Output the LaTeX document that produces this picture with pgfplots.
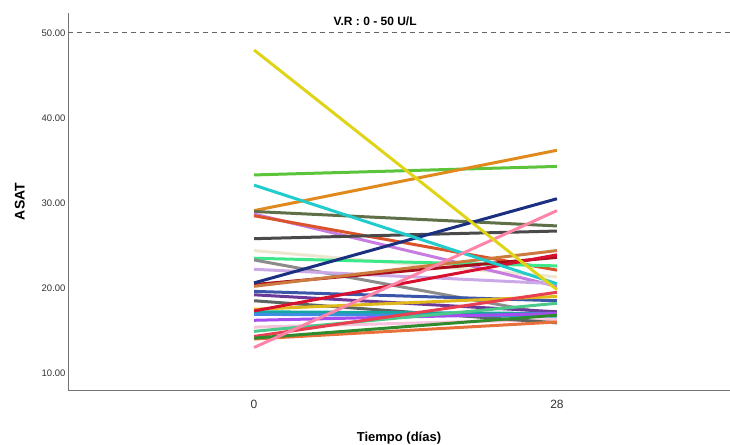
\documentclass[border=0pt]{standalone}
\usepackage{pgfplots}
\pgfplotsset{compat=1.18}
\usepackage{fontspec}
\setmainfont{Liberation Sans}
\definecolor{cA}{HTML}{5CC43A}
\definecolor{cB}{HTML}{22CCCC}
\definecolor{cC}{HTML}{E08A1E}
\definecolor{cD}{HTML}{5F7048}
\definecolor{cE}{HTML}{C77CE0}
\definecolor{cF}{HTML}{D9542B}
\definecolor{cG}{HTML}{4A4A4A}
\definecolor{cH}{HTML}{EDE6D0}
\definecolor{cI}{HTML}{3DE88A}
\definecolor{cJ}{HTML}{8C8C8C}
\definecolor{cK}{HTML}{CBA8E6}
\definecolor{cL}{HTML}{1A2F80}
\definecolor{cM}{HTML}{A80F1A}
\definecolor{cN}{HTML}{CC7A3D}
\definecolor{cO}{HTML}{3B56A8}
\definecolor{cP}{HTML}{6B3A99}
\definecolor{cQ}{HTML}{5C6660}
\definecolor{cR}{HTML}{E0B81A}
\definecolor{cS}{HTML}{14A8A0}
\definecolor{cT}{HTML}{3C8FE0}
\definecolor{cU}{HTML}{A64DF0}
\definecolor{cV}{HTML}{F7C3DC}
\definecolor{cW}{HTML}{4CC98A}
\definecolor{cX}{HTML}{E84050}
\definecolor{cY}{HTML}{2E8B2E}
\definecolor{cZ}{HTML}{FF85A8}
\definecolor{cYel}{HTML}{E0D419}
\definecolor{cCr}{HTML}{D6102E}
\definecolor{cCo}{HTML}{E8703A}
\begin{document}
\begin{tikzpicture}
\path[use as bounding box] (-68pt,-54pt) rectangle (662pt,390pt);
\begin{axis}[
  scale only axis, width=662pt, height=377pt,
  xmin=-17.2, xmax=44, ymin=8, ymax=52.35,
  axis x line*=bottom, axis y line*=left,
  axis line style={color=black!55, line width=0.8pt, -},
  xtick={0,28}, xticklabels={0,28},
  ytick={10,20,30,40,50},
  major tick length=0pt,
  yticklabel style={font=\fontsize{9.5}{10}\selectfont, text=black!80, xshift=1pt},
  xticklabel style={font=\fontsize{12}{13}\selectfont, text=black!80, yshift=-7pt},
  /pgf/number format/.cd, fixed, fixed zerofill, precision=2, assume math mode=true,
  /pgfplots/.cd,
  xlabel={\bfseries Tiempo (días)},
  ylabel={\bfseries ASAT},
  xlabel style={font=\fontsize{13}{14}\selectfont, yshift=-16pt},
  ylabel style={font=\fontsize{14}{15}\selectfont, yshift=10pt},
  every axis plot/.append style={line width=3pt},
  clip=false,
]
\addplot[black!60, line width=1pt, dash pattern=on 5pt off 4pt] coordinates {(-17.2,50) (44,50)};
\node[font=\bfseries\fontsize{12}{13}\selectfont] at (axis cs:11.2,51.4) {V.R : 0 - 50 U/L};
\addplot[cH] coordinates {(0,24.4) (28,21.3)};
\addplot[cV] coordinates {(0,15.4) (28,16.3)};
\addplot[cA] coordinates {(0,33.3) (28,34.3)};
\addplot[cC] coordinates {(0,29.1) (28,36.2)};
\addplot[cD] coordinates {(0,29.0) (28,27.3)};
\addplot[cE] coordinates {(0,28.7) (28,20.2)};
\addplot[cF] coordinates {(0,28.5) (28,22.1)};
\addplot[cG] coordinates {(0,25.8) (28,26.7)};
\addplot[cI] coordinates {(0,23.5) (28,22.6)};
\addplot[cJ] coordinates {(0,23.3) (28,16.8)};
\addplot[cK] coordinates {(0,22.2) (28,20.5)};
\addplot[cM] coordinates {(0,20.4) (28,23.6)};
\addplot[cN] coordinates {(0,20.2) (28,24.4)};
\addplot[cO] coordinates {(0,19.6) (28,18.5)};
\addplot[cP] coordinates {(0,19.2) (28,17.2)};
\addplot[cQ] coordinates {(0,18.5) (28,15.9)};
\addplot[cR] coordinates {(0,17.5) (28,19.0)};
\addplot[cS] coordinates {(0,17.2) (28,17.0)};
\addplot[cT] coordinates {(0,16.9) (28,16.7)};
\addplot[cU] coordinates {(0,16.2) (28,17.0)};
\addplot[cCr] coordinates {(0,17.3) (28,23.9)};
\addplot[cW] coordinates {(0,14.9) (28,18.2)};
\addplot[cCo] coordinates {(0,14.0) (28,16.0)};
\addplot[cX] coordinates {(0,14.3) (28,19.5)};
\addplot[cY] coordinates {(0,14.1) (28,16.8)};
\addplot[cL] coordinates {(0,20.6) (28,30.5)};
\addplot[cB] coordinates {(0,32.1) (28,20.5)};
\addplot[cZ] coordinates {(0,13.0) (28,29.1)};
\addplot[cYel] coordinates {(0,48.0) (28,19.8)};
\end{axis}
\end{tikzpicture}
\end{document}
